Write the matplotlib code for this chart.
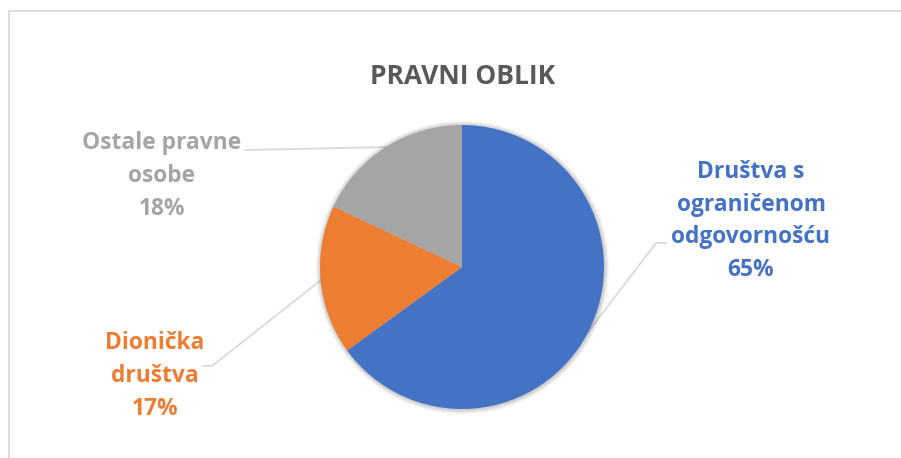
import matplotlib
matplotlib.use("Agg")
import matplotlib.pyplot as plt
from matplotlib.patches import Circle
import numpy as np

W, H = 901, 458

# Data
categories = ["Društva s\nograničenom\nodgovornošću", "Dionička\ndruštva", "Ostale pravne\nosobe"]
shares = [65, 17, 18]
colors = ["#4472C4", "#ED7D31", "#A5A5A5"]
title = "PRAVNI OBLIK"

plt.rcParams["font.family"] = ["Open Sans", "DejaVu Sans"]

fig = plt.figure(figsize=(W / 100, H / 100), dpi=100)
ax = fig.add_axes([0, 0, 1, 1])

cx, cy, r = 462, H - 267, 142

# soft shadow around the pie
for k in range(6):
    ax.add_patch(Circle((cx + 0.5, cy - 0.5), r + 0.5 + k * 0.8,
                        facecolor="black", edgecolor="none",
                        alpha=0.035, zorder=1))

wedges, _ = ax.pie(shares, colors=colors, startangle=90, counterclock=False,
                   center=(cx, cy), radius=r, frame=True,
                   wedgeprops=dict(linewidth=0, zorder=2))

ax.set_xlim(0, W)
ax.set_ylim(0, H)
ax.set_aspect("equal")
ax.axis("off")

# Chart frame
ax.plot([9, 9, W], [0, H - 10.5, H - 10.5], color="#D9D9D9", lw=1.3,
        solid_joinstyle="miter", zorder=0)

ax.text(cx + 1, H - 76, title, ha="center", va="center", fontsize=19,
        fontweight="bold", color="#595959")

# label block centers and leader elbows (pixels from top)
label_pos = [(751, 221), (155, 376), (162, 176)]
elbows = [[(666, 243), (656, 243)], [(203, 366), (212, 366)], [(245, 150)]]

for w, cat, val, col, (lx, ly), elb in zip(wedges, categories, shares, colors,
                                            label_pos, elbows):
    mid = np.deg2rad((w.theta1 + w.theta2) / 2)
    ex, ey = cx + r * np.cos(mid), cy + r * np.sin(mid)
    pts = [(x, H - y) for x, y in elb] + [(ex, ey)]
    xs, ys = zip(*pts)
    ax.plot(xs, ys, color="#D9D9D9", lw=1.3, zorder=0.5)
    ax.text(lx, H - ly, f"{cat}\n{val}%", ha="center", va="center",
            fontsize=16.4, fontweight="bold", color=col, linespacing=1.49)

fig.savefig("out.png", dpi=100)
